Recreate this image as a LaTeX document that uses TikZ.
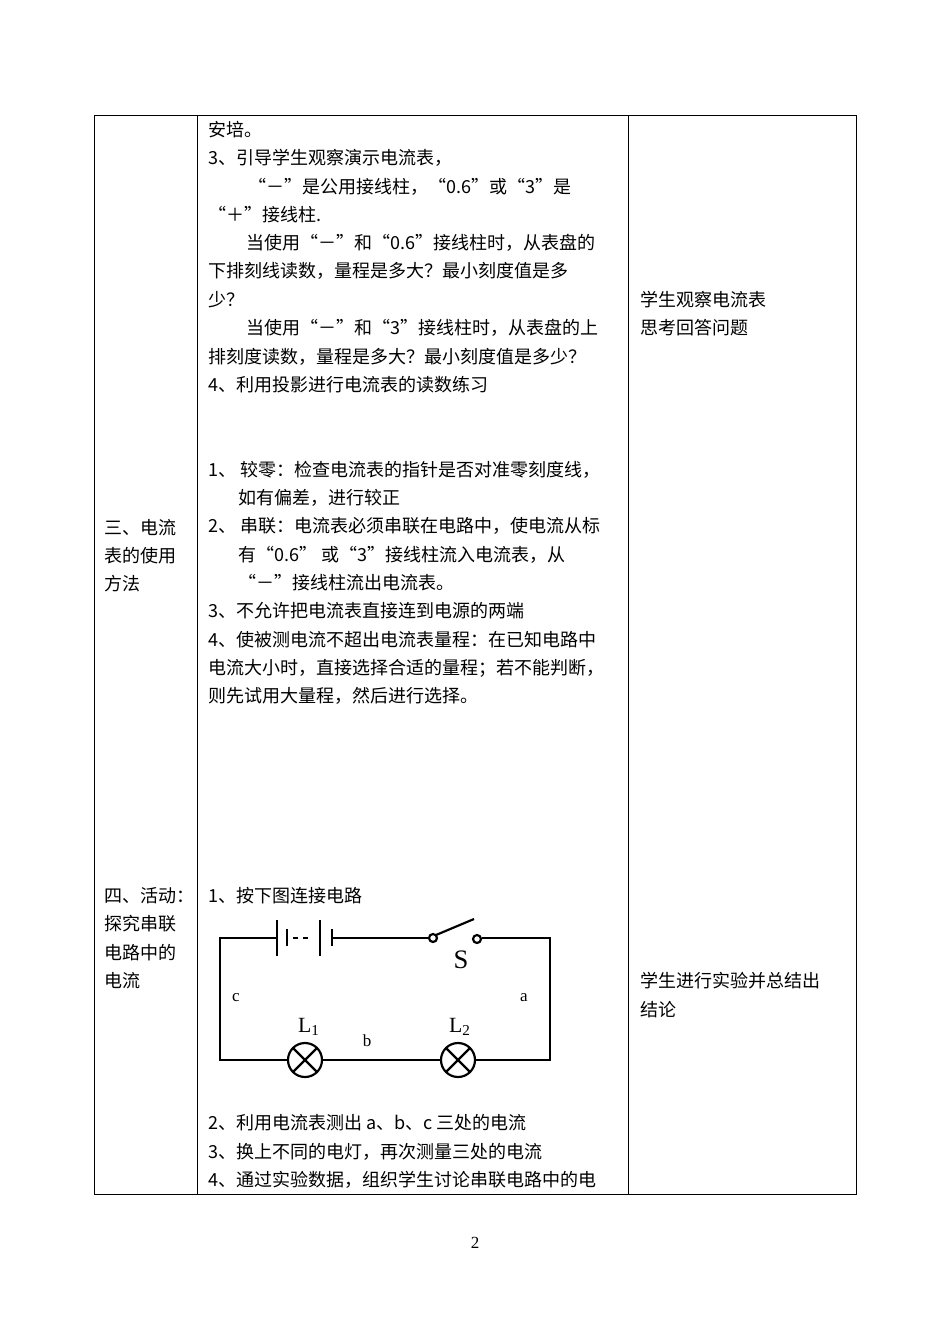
\documentclass[tikz,border=0pt]{standalone}
\usepackage{fontspec}
\setmainfont{Liberation Serif}
\newfontfamily\cjk{Noto Sans CJK SC}
\begin{document}
\begin{tikzpicture}[x=0.6pt,y=-0.6pt,
 tx/.style={anchor=west,inner sep=0pt,font=\cjk\fontsize{10.8}{12}\selectfont},
 lt/.style={anchor=center,inner sep=0pt,font=\fontsize{10.2}{12}\selectfont},
 wire/.style={line width=1.3pt}]
\useasboundingbox (0,0) rectangle (950,1342);
\draw[line width=0.5pt] (94,115) rectangle (856,1194);
\draw[line width=0.5pt] (197,115) -- (197,1194) (628,115) -- (628,1194);
\node[lt] (pg) at (475,1243) {2};
% middle column
\node[tx] (m1) at (208,130) {安培。};
\node[tx] (m2) at (208,158) {3、引导学生观察演示电流表，};
\node[tx] (m3) at (248,187) {“－”是公用接线柱，“0.6”或“3”是};
\node[tx] (m4) at (208,215) {“＋”接线柱.};
\node[tx] (m5) at (246,243) {当使用“－”和“0.6”接线柱时，从表盘的};
\node[tx] (m6) at (208,271) {下排刻线读数，量程是多大？最小刻度值是多};
\node[tx] (m7) at (208,300) {少？};
\node[tx] (m8) at (246,328) {当使用“－”和“3”接线柱时，从表盘的上};
\node[tx] (m9) at (208,357) {排刻度读数，量程是多大？最小刻度值是多少？};
\node[tx] (m10) at (208,385) {4、利用投影进行电流表的读数练习};
\node[tx] (n1) at (208,470) {1、 较零：检查电流表的指针是否对准零刻度线，};
\node[tx] (n2) at (238,498) {如有偏差，进行较正};
\node[tx] (n3) at (208,526) {2、 串联：电流表必须串联在电路中，使电流从标};
\node[tx] (n4) at (238,555) {有“0.6” 或“3”接线柱流入电流表，从};
\node[tx] (n5) at (238,583) {“－”接线柱流出电流表。};
\node[tx] (n6) at (208,611) {3、不允许把电流表直接连到电源的两端};
\node[tx] (n7) at (208,640) {4、使被测电流不超出电流表量程：在已知电路中};
\node[tx] (n8) at (208,668) {电流大小时，直接选择合适的量程；若不能判断，};
\node[tx] (n9) at (208,696) {则先试用大量程，然后进行选择。};
\node[tx] (p1) at (208,896) {1、按下图连接电路};
\node[tx] (p2) at (208,1123) {2、利用电流表测出 a、b、c 三处的电流};
\node[tx] (p3) at (208,1152) {3、换上不同的电灯，再次测量三处的电流};
\node[tx] (p4) at (208,1180) {4、通过实验数据，组织学生讨论串联电路中的电};
% left column
\node[tx] (l1) at (104,528) {三、电流};
\node[tx] (l2) at (104,556) {表的使用};
\node[tx] (l3) at (104,584) {方法};
\node[tx] (l4) at (104,896) {四、活动：};
\node[tx] (l5) at (104,924) {探究串联};
\node[tx] (l6) at (104,953) {电路中的};
\node[tx] (l7) at (104,981) {电流};
% right column
\node[tx] (r1) at (640,300) {学生观察电流表};
\node[tx] (r2) at (640,328) {思考回答问题};
\node[tx] (r3) at (640,981) {学生进行实验并总结出};
\node[tx] (r4) at (640,1010) {结论};
% circuit
\coordinate (bl) at (220,1060);
\coordinate (tl) at (220,938);
\coordinate (tr) at (550,938);
\coordinate (br) at (550,1060);
\draw[wire] (277,938) -- (tl) -- (bl) -- (288,1060);
\draw[wire] (322,1060) -- (441,1060);
\draw[wire] (475,1060) -- (br) -- (tr) -- (482,938);
\draw[wire] (332,938) -- (429,938);
\draw[wire] (277,920) -- (277,956) (287,929) -- (287,946);
\draw[wire] (293,938) -- (298,938) (303,938) -- (308,938);
\draw[wire] (320,920) -- (320,956) (332,929) -- (332,946);
\draw[wire] (433,938) circle (4);
\draw[wire] (477,939) circle (4);
\draw[wire] (436,935) -- (474,919);
\node[lt,font=\fontsize{16}{18}\selectfont] (S) at (461,960) {S};
\node[lt] (c) at (236,998) {c};
\node[lt] (a) at (524,998) {a};
\node[lt] (b) at (367,1041) {b};
\node[lt,font=\fontsize{13}{14}\selectfont] (L1) at (309,1027) {L\textsubscript{1}};
\node[lt,font=\fontsize{13}{14}\selectfont] (L2) at (460,1027) {L\textsubscript{2}};
\draw[wire] (305,1060) circle (17);
\draw[wire] (305,1060) ++(45:17) -- ++(225:34) (305,1060) ++(135:17) -- ++(-45:34);
\draw[wire] (458,1060) circle (17);
\draw[wire] (458,1060) ++(45:17) -- ++(225:34) (458,1060) ++(135:17) -- ++(-45:34);
\end{tikzpicture}
\end{document}
